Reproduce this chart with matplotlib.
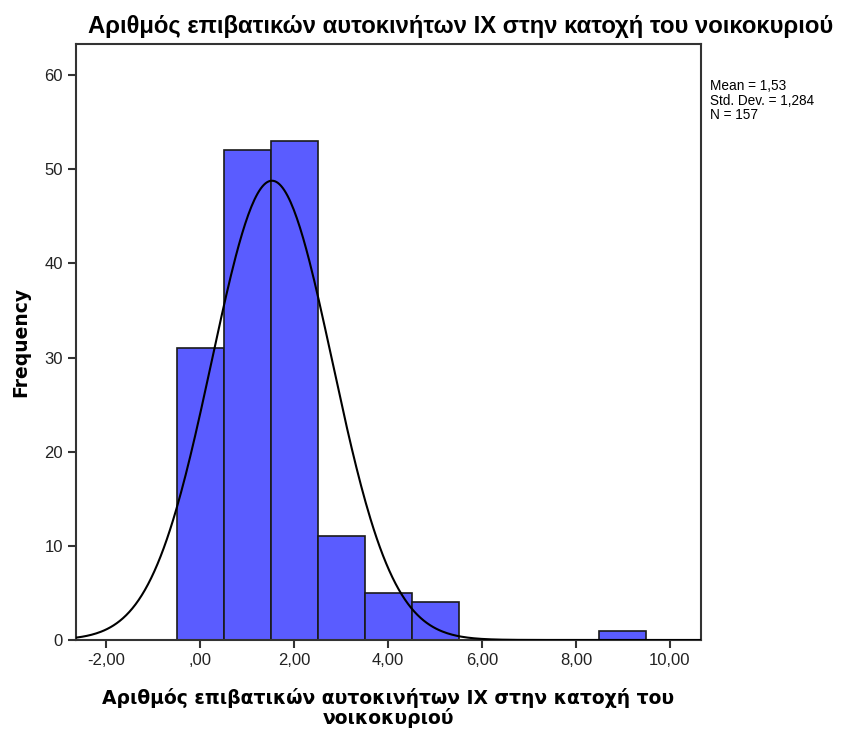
import numpy as np
import matplotlib
matplotlib.use("Agg")
import matplotlib.pyplot as plt

# bin centres and frequencies
bin_centers = [0, 1, 2, 3, 4, 5, 9]
counts = [31, 52, 53, 11, 5, 4, 1]
mean_val = 1.53
std_val = 1.284
n_total = 157
xticks = [-2, 0, 2, 4, 6, 8, 10]
xtick_labels = ["-2,00", ",00", "2,00", "4,00", "6,00", "8,00", "10,00"]
yticks = [0, 10, 20, 30, 40, 50, 60]

title = "Αριθμός επιβατικών αυτοκινήτων ΙΧ στην κατοχή του νοικοκυριού"
xlabel = "Αριθμός επιβατικών αυτοκινήτων ΙΧ στην κατοχή του\nνοικοκυριού"

fig = plt.figure(figsize=(8.41, 7.31), dpi=100)
ax = fig.add_axes([76/841, 1 - 640/731, (701-76)/841, (640-44)/731])

ax.bar(bin_centers, counts, width=1.0, color="#5a5cff", edgecolor="#1a1a1a",
       linewidth=1.2, zorder=2)

xs = np.linspace(-2.64, 10.66, 400)
ys = n_total / (std_val * np.sqrt(2 * np.pi)) * np.exp(-0.5 * ((xs - mean_val) / std_val) ** 2)
ax.plot(xs, ys, color="black", linewidth=1.5, zorder=3)

ax.set_xlim(-2.64, 10.66)
ax.set_ylim(0, 63.3)
ax.set_xticks(xticks)
ax.set_xticklabels(xtick_labels)
ax.set_yticks(yticks)
for s in ax.spines.values():
    s.set_color("#333333")
    s.set_linewidth(1.5)
ax.tick_params(axis="both", direction="out", length=6, width=1.5, color="#333333",
               labelsize=12, labelcolor="#222222")
for lab in ax.get_xticklabels() + ax.get_yticklabels():
    lab.set_family("Liberation Sans")

ax.set_ylabel("Frequency", fontsize=13.5, fontweight="bold", family="DejaVu Sans", labelpad=10)
ax.set_xlabel(xlabel, fontsize=13.5, fontweight="bold", family="DejaVu Sans",
              labelpad=14, linespacing=1.0)

fig.text(461/841, 1 - 27/731, title, ha="center", va="center", fontsize=17.2,
         fontweight="bold", family="Liberation Sans")

stats = "Mean = 1,53\nStd. Dev. = 1,284\nN = 157"
fig.text(710/841, 1 - 79/731, stats, ha="left", va="top", fontsize=9.8,
         family="Liberation Sans", linespacing=1.05)

fig.savefig("out.png", dpi=100)
